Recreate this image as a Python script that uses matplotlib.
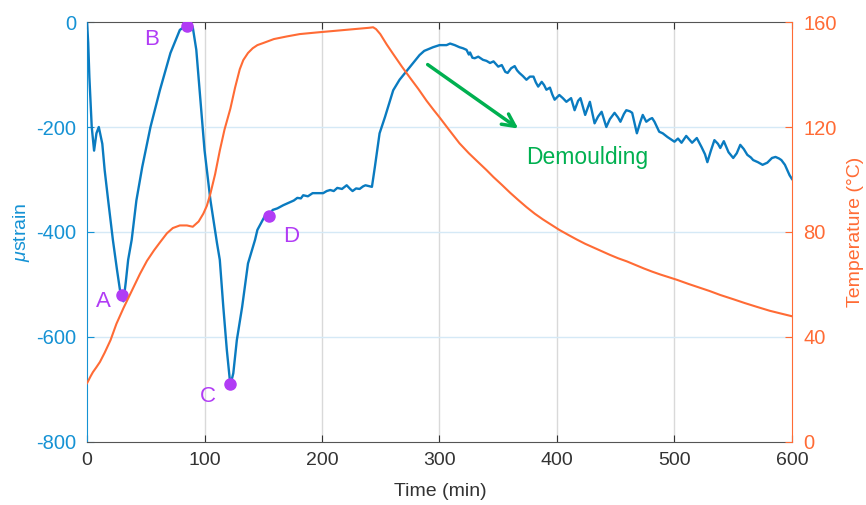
import matplotlib
matplotlib.use("Agg")
import matplotlib.pyplot as plt
import numpy as np

plt.rcParams['font.family'] = ['Liberation Sans', 'DejaVu Sans']
plt.rcParams['axes.unicode_minus'] = False
plt.rcParams['mathtext.fontset'] = 'custom'
plt.rcParams['mathtext.it'] = 'Liberation Sans:italic'

# strain gauge reading (microstrain) vs time (min)
strain_t = [0, 1, 2, 4, 6, 8, 10, 13, 15, 18, 22, 25.5, 28, 30, 31, 33, 35, 38, 42, 47,
            54, 62, 71, 79, 85, 88, 90, 93, 96, 100, 105, 110.6, 113, 116, 119, 122, 124.5,
            127.5, 132, 137, 143, 145, 151, 155, 158, 162, 167, 170, 173, 176, 179, 182,
            184, 188, 192, 196, 201, 204, 207, 210, 213, 217, 221, 224, 226, 229, 232, 235,
            237, 242.5, 245, 249, 253.6, 260.6, 266, 275, 283, 287, 294.5, 300, 306, 309,
            313, 317, 320, 323, 325, 326, 328, 330, 333, 337, 340, 343, 346, 350, 353, 356,
            358, 361, 364, 366, 368, 371, 374, 377, 380, 382, 384, 387, 389, 391, 394, 396,
            398, 402, 405, 408, 412, 415, 418, 420, 424, 428, 432, 435, 438, 442, 445, 449,
            452, 454, 457, 459, 462, 464, 468, 471, 473, 476, 479, 481, 483, 487, 490, 494,
            498, 500, 503, 506, 510, 515, 519, 523, 526, 528, 531, 534, 537, 539, 542, 546,
            550, 553, 556, 559, 562, 565, 567, 571, 575, 579, 583, 586, 589, 591, 594, 596,
            598, 600]
strain_v = [0, -40, -105, -200, -245, -212, -200, -232, -282, -340, -415, -472, -510, -522,
            -532, -495, -453, -415, -340, -276, -200, -130, -59, -15, -6, -3, -10, -53, -135,
            -244, -339, -421, -453, -543, -625, -692, -669, -606, -543, -460, -415, -396,
            -371, -368, -358, -355, -349, -346, -343, -340, -335, -336, -330, -332, -326,
            -326, -326, -322, -320, -322, -316, -318, -311, -318, -322, -317, -318, -313,
            -311, -314, -276, -212, -181, -130, -110, -85, -63, -55, -48, -44, -44, -41,
            -44, -48, -50, -53, -62, -58, -68, -69, -66, -72, -74, -78, -75, -85, -82, -95,
            -97, -88, -84, -92, -97, -103, -110, -104, -104, -115, -123, -114, -120, -129,
            -125, -138, -148, -139, -145, -152, -145, -168, -150, -145, -177, -152, -193,
            -180, -171, -200, -185, -173, -182, -190, -175, -168, -170, -173, -212, -190,
            -177, -190, -185, -183, -190, -209, -212, -219, -225, -228, -222, -230, -217,
            -230, -221, -238, -252, -267, -245, -225, -232, -240, -227, -248, -259, -250,
            -234, -242, -253, -258, -263, -267, -272, -268, -259, -257, -260, -263, -272,
            -282, -292, -299]

# temperature (degC) vs time (min)
temp_t = [0, 3, 5, 8, 11, 15, 20, 25, 31, 38, 45, 51, 57, 62, 68, 73, 79, 85, 90, 95, 99,
          102, 105, 109, 113, 117, 122, 126, 130, 133, 137, 141, 145, 150, 159, 170, 181,
          195, 210, 225, 240, 243.5, 246, 249.6, 255, 260.6, 268, 275, 282, 289, 295, 300,
          308, 317, 325, 332, 340, 346, 353, 360, 367, 374, 381, 388, 395, 402, 410, 417,
          424, 431, 438, 445, 452, 459.5, 467, 474, 481, 488, 495, 502, 512, 522, 530, 539,
          550, 560, 570, 581, 590, 600]
temp_v = [22.4, 25, 26.6, 28.5, 30.5, 34, 38.8, 45, 51, 57.5, 64, 69, 73, 76, 79.5, 81.5,
          82.5, 82.5, 82, 84, 87, 90, 94.6, 102, 111, 119, 127, 135, 142, 145.5, 148.2, 150,
          151.2, 152, 153.5, 154.5, 155.4, 156, 156.6, 157.2, 157.8, 158, 157.3, 155.4,
          151.5, 147.8, 143, 138.7, 134.5, 130, 126.5, 123.7, 119, 113.8, 110, 107, 103.6,
          100.9, 98, 95, 92.2, 89.5, 87, 84.8, 82.8, 80.8, 78.8, 77.1, 75.5, 74.1, 72.7,
          71.3, 70, 68.8, 67.4, 66.1, 64.9, 63.8, 62.8, 61.8, 60.2, 58.7, 57.5, 56, 54.4,
          52.9, 51.5, 50, 49, 47.9]

# marked points A-D
pt_names = ['A', 'B', 'C', 'D']
pt_t = [30, 85, 122, 155]
pt_v = [-520, -8, -690, -370]
lbl_t = [14, 55, 103, 174]
lbl_v = [-533, -34, -714, -408]

blue = '#0a7bc0'
blue_axis = '#1592d4'
orange = '#ff6b35'
purple = '#b13cf5'
green = '#00b050'

fig = plt.figure(figsize=(8.66, 5.05), dpi=100)
ax = fig.add_axes([0.1005, 0.1248, 0.8140, 0.8316])
ax2 = ax.twinx()

ax.plot(strain_t, strain_v, color=blue, lw=1.7, zorder=3)
ax2.plot(temp_t, temp_v, color=orange, lw=1.5, zorder=2)

ax.plot(pt_t, pt_v, 'o', color=purple, ms=8, zorder=4)
for n, x, y in zip(pt_names, lbl_t, lbl_v):
    ax.text(x, y, n, color=purple, fontsize=16, ha='center', va='center')

ax.annotate('', xy=(369, -206), xytext=(288, -78),
            arrowprops=dict(arrowstyle='->,head_length=0.9,head_width=0.45',
                            color=green, lw=2.5))
ax.text(426, -259, 'Demoulding', color=green, fontsize=16.5, ha='center', va='center')

ax.set_xlim(0, 600)
ax.set_ylim(-800, 0)
ax2.set_ylim(0, 160)
ax.set_xticks(np.arange(0, 601, 100))
ax.set_yticks(np.arange(-800, 1, 200))
ax2.set_yticks(np.arange(0, 161, 40))

# grid: vertical grey, horizontal tinted like the left axis
for x in range(100, 600, 100):
    ax.axvline(x, color='#d9d9d9', lw=1, zorder=1)
for y in range(-600, 0, 200):
    ax.axhline(y, color='#d5e9f6', lw=1, zorder=1)

ax.tick_params(axis='x', direction='in', length=5, colors='#333333', labelsize=14,
               pad=7, top=True)
ax.tick_params(axis='y', direction='in', length=5, colors=blue_axis, labelsize=14.5, pad=8)
ax2.tick_params(axis='y', direction='in', length=5, colors=orange, labelsize=14.5, pad=8)

for s in ['top', 'bottom']:
    ax.spines[s].set_color('#555555')
ax.spines['left'].set_color(blue_axis)
ax2.spines['left'].set_visible(False)
ax2.spines['top'].set_visible(False)
ax2.spines['bottom'].set_visible(False)
ax2.spines['right'].set_color(orange)
ax.spines['right'].set_visible(False)

fig.text(440 / 866, 1 - 491 / 505, 'Time (min)', fontsize=14, color='#333333',
         ha='center', va='center')
fig.text(22 / 866, 1 - 232 / 505, r'$\mu$strain', fontsize=14, color=blue_axis,
         ha='center', va='center', rotation=90)
fig.text(855 / 866, 1 - 232 / 505, 'Temperature (°C)', fontsize=14, color=orange,
         ha='center', va='center', rotation=90)

fig.savefig('out.png', dpi=100)
